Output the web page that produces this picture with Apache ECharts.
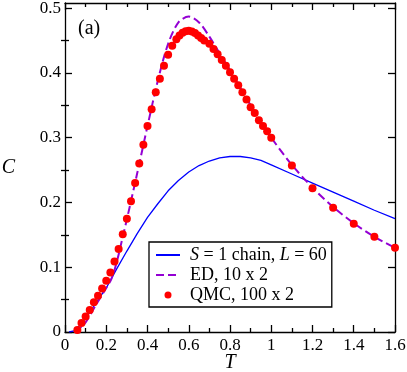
<!DOCTYPE html>
<html><head><meta charset="utf-8">
<script src="https://cdn.jsdelivr.net/npm/echarts@6/dist/echarts.min.js"></script>
<style>html,body{margin:0;padding:0;background:#fff}#c{width:407px;height:372px}</style>
</head><body><div id="c"></div>
<script>
// ---- data ----
const chainT = [0.02,0.05,0.10,0.15,0.20,0.25,0.30,0.35,0.40,0.45,0.50,0.55,0.60,0.65,0.70,0.75,0.80,0.85,0.90,0.95,1.00,1.10,1.20,1.30,1.40,1.50,1.60];
const chainC = [0.000,0.002,0.021,0.045,0.068,0.097,0.125,0.152,0.177,0.198,0.218,0.234,0.247,0.257,0.264,0.269,0.271,0.271,0.269,0.265,0.258,0.244,0.230,0.216,0.202,0.188,0.175];

const edT = [0.05,0.10,0.15,0.20,0.225,0.25,0.275,0.30,0.35,0.40,0.45,0.50,0.55,0.60,0.65,0.70,0.75,0.80,0.85,0.90,0.95,1.00,1.10,1.20,1.30,1.40,1.50,1.60];
const edC = [0.000,0.015,0.042,0.068,0.082,0.107,0.140,0.174,0.245,0.318,0.388,0.445,0.478,0.487,0.478,0.456,0.430,0.404,0.377,0.350,0.324,0.300,0.258,0.223,0.193,0.168,0.147,0.130];

const qmcT = [0.06,0.08,0.10,0.12,0.14,0.16,0.18,0.20,0.22,0.24,0.26,0.28,0.30,0.32,0.34,0.36,0.38,0.40,0.42,0.44,0.46,0.48,0.50,0.52,0.54,0.555,0.57,0.585,0.60,0.615,0.63,0.645,0.66,0.675,0.70,0.72,0.74,0.76,0.78,0.80,0.82,0.84,0.86,0.88,0.90,0.92,0.94,0.96,0.98,1.00,1.10,1.20,1.30,1.40,1.50,1.60];
const qmcC = [0.003,0.014,0.024,0.034,0.046,0.056,0.067,0.079,0.092,0.109,0.128,0.151,0.175,0.202,0.230,0.260,0.289,0.318,0.344,0.370,0.391,0.411,0.428,0.442,0.452,0.458,0.462,0.4645,0.465,0.464,0.4615,0.458,0.454,0.450,0.445,0.437,0.429,0.420,0.411,0.401,0.391,0.381,0.370,0.359,0.347,0.338,0.327,0.318,0.310,0.300,0.257,0.222,0.192,0.167,0.147,0.130];

const yMajor = [0,0.1,0.2,0.3,0.4,0.5];
const yMinor = [0.05,0.15,0.25,0.35,0.45];
const seriesNames = ['S = 1 chain, L = 60','ED, 10 x 2','QMC, 100 x 2'];
const panelLabel = '(a)';
const xName = 'T', yName = 'C';

// ---- chart ----
const FONT = 'Liberation Serif';
const TICKFONT = 17;
const zip = (a,b) => a.map((v,i)=>[v,b[i]]);
const chart = echarts.init(document.getElementById('c'), null, {renderer:'canvas'});
const lineCol = '#000';
const baseX = {
  type:'value', min:0, max:1.6, interval:0.2,
  axisLine:{show:true, onZero:false, lineStyle:{color:lineCol,width:1.3}},
  axisTick:{show:true, inside:true, length:7, lineStyle:{color:lineCol,width:1.3}},
  minorTick:{show:true, splitNumber:2, length:4, lineStyle:{color:lineCol,width:1.3}},
  splitLine:{show:false}, minorSplitLine:{show:false}
};
const baseY = {
  type:'value', min:0, max:0.508,
  axisLine:{show:true, onZero:false, lineStyle:{color:lineCol,width:1.3}},
  splitLine:{show:false}
};
chart.setOption({
  animation:false,
  backgroundColor:'#fff',
  title:{text:panelLabel, left:78, top:19, padding:0,
    textStyle:{fontFamily:FONT, fontSize:20, fontWeight:'normal', color:'#000'}},
  grid:{left:65, right:12, top:3, bottom:40, containLabel:false, outerBoundsMode:'none'},
  legend:{
    show:true, left:149, top:242, orient:'vertical',
    data:[
      {name:seriesNames[0], itemStyle:{opacity:0}},
      {name:seriesNames[1], itemStyle:{opacity:0}},
      {name:seriesNames[2]}
    ],
    borderColor:'#000', borderWidth:1.3, borderRadius:0,
    padding:[3,5,2,6], itemWidth:24, itemHeight:7, itemGap:0,
    backgroundColor:'#fff',
    formatter: n => n===seriesNames[0] ? '{i|S} = 1 chain, {i|L} = 60' : n,
    textStyle:{fontFamily:FONT, fontSize:18, color:'#000', lineHeight:20, padding:[0,0,0,5],
      rich:{i:{fontFamily:FONT, fontSize:18, fontStyle:'italic', color:'#000', lineHeight:20}}}
  },
  xAxis:[
    Object.assign({}, baseX, {position:'bottom',
      name:xName, nameLocation:'middle', nameGap:21, nameMoveOverlap:false,
      nameTextStyle:{fontFamily:FONT, fontSize:20, fontStyle:'italic', color:'#000'},
      axisLabel:{show:true, margin:5, fontFamily:FONT, fontSize:TICKFONT, color:'#000'}}),
    Object.assign({}, baseX, {position:'top', axisLabel:{show:false}})
  ],
  yAxis:[
    Object.assign({}, baseY, {position:'left',
      name:yName, nameLocation:'middle', nameGap:50, nameRotate:0, nameMoveOverlap:false,
      nameTextStyle:{fontFamily:FONT, fontSize:20, fontStyle:'italic', color:'#000'},
      axisTick:{show:true, inside:true, length:7, customValues:yMajor, lineStyle:{color:lineCol,width:1.3}},
      axisLabel:{show:true, margin:4, customValues:yMajor, fontFamily:FONT, fontSize:TICKFONT, color:'#000'}}),
    Object.assign({}, baseY, {position:'left', axisLine:{show:false},
      axisTick:{show:true, inside:true, length:4, customValues:yMinor, lineStyle:{color:lineCol,width:1.3}},
      axisLabel:{show:false}}),
    Object.assign({}, baseY, {position:'right',
      axisTick:{show:true, inside:true, length:7, customValues:yMajor, lineStyle:{color:lineCol,width:1.3}},
      axisLabel:{show:false}}),
    Object.assign({}, baseY, {position:'right', axisLine:{show:false},
      axisTick:{show:true, inside:true, length:4, customValues:yMinor, lineStyle:{color:lineCol,width:1.3}},
      axisLabel:{show:false}})
  ],
  series:[
    {name:seriesNames[0], type:'line', data:zip(chainT,chainC), symbol:'none', smooth:false,
      lineStyle:{color:'#0000ff', width:1.3}, itemStyle:{color:'#0000ff'}, z:2},
    {name:seriesNames[1], type:'line', data:zip(edT,edC), symbol:'none', smooth:0.3,
      lineStyle:{color:'#9400d3', width:2, type:[8,4]}, itemStyle:{color:'#9400d3'}, z:3},
    {name:seriesNames[2], type:'scatter', data:zip(qmcT,qmcC), symbol:'circle', symbolSize:8,
      itemStyle:{color:'#ff0000', opacity:1}, z:4}
  ]
});
</script></body></html>
